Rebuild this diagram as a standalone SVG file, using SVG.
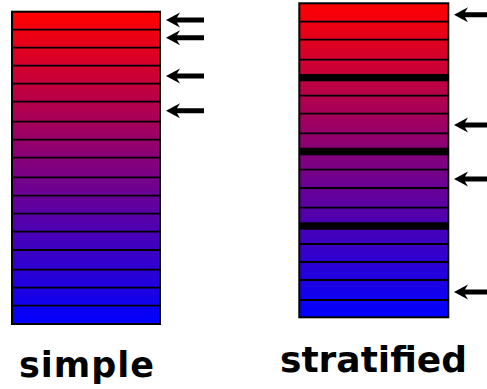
<svg xmlns="http://www.w3.org/2000/svg" width="487" height="389" viewBox="0 0 487 389">
<defs>
<linearGradient id="rb" x1="0" y1="0" x2="0" y2="1">
<stop offset="0" stop-color="#ff0000"/>
<stop offset="1" stop-color="#0000ff"/>
</linearGradient>
</defs>
<style>
.col{fill:url(#rb);stroke:#000;stroke-width:2}
.sep{stroke:#000;stroke-width:1.8}
.bar{fill:#000}
.arr{fill:#000}
.lbl{font-family:"DejaVu Sans","Liberation Sans",sans-serif;font-weight:bold;fill:#000}
</style>
<g id="simple">
<rect class="col" x="12" y="11.7" width="148" height="312.3"/>
<path class="sep" d="M12 29.7H160M12 47.7H160M12 65.7H160M12 83.7H160M12 101.7H160M12 121.7H160M12 139.7H160M12 157.7H160M12 177.3H160M12 195.7H160M12 213.7H160M12 231.7H160M12 250H160M12 269.7H160M12 287.7H160M12 305.7H160"/>
</g>
<g id="stratified">
<rect class="col" x="299.3" y="3.3" width="149" height="314"/>
<path class="sep" d="M299.3 21.7H448.3M299.3 39.7H448.3M299.3 59.7H448.3M299.3 95.7H448.3M299.3 113.7H448.3M299.3 133.3H448.3M299.3 169.7H448.3M299.3 188H448.3M299.3 207.7H448.3M299.3 244H448.3M299.3 262H448.3M299.3 280H448.3M299.3 300H448.3"/>
<rect class="bar" x="299.3" y="74" width="149" height="7.3"/>
<rect class="bar" x="299.3" y="147.7" width="149" height="7.6"/>
<rect class="bar" x="299.3" y="222.3" width="149" height="7.4"/>
</g>
<g id="connectors">
<defs>
<path id="a" d="M0 0L14 -7.5L11 -2.5L38 -2.5L38 2.5L11 2.5L14 7.5Z"/>
</defs>
<use href="#a" class="arr" x="166" y="20"/>
<use href="#a" class="arr" x="166" y="37.7"/>
<use href="#a" class="arr" x="166" y="76"/>
<use href="#a" class="arr" x="166" y="110.7"/>
<use href="#a" class="arr" x="454" y="14.7"/>
<use href="#a" class="arr" x="454" y="125"/>
<use href="#a" class="arr" x="454" y="179"/>
<use href="#a" class="arr" x="454" y="292"/>
</g>
<g id="labels">
<text class="lbl" x="19" y="377" font-size="35" textLength="135" lengthAdjust="spacing">simple</text>
<text class="lbl" x="280" y="372" font-size="36" textLength="187" lengthAdjust="spacing">stratified</text>
</g>
</svg>
